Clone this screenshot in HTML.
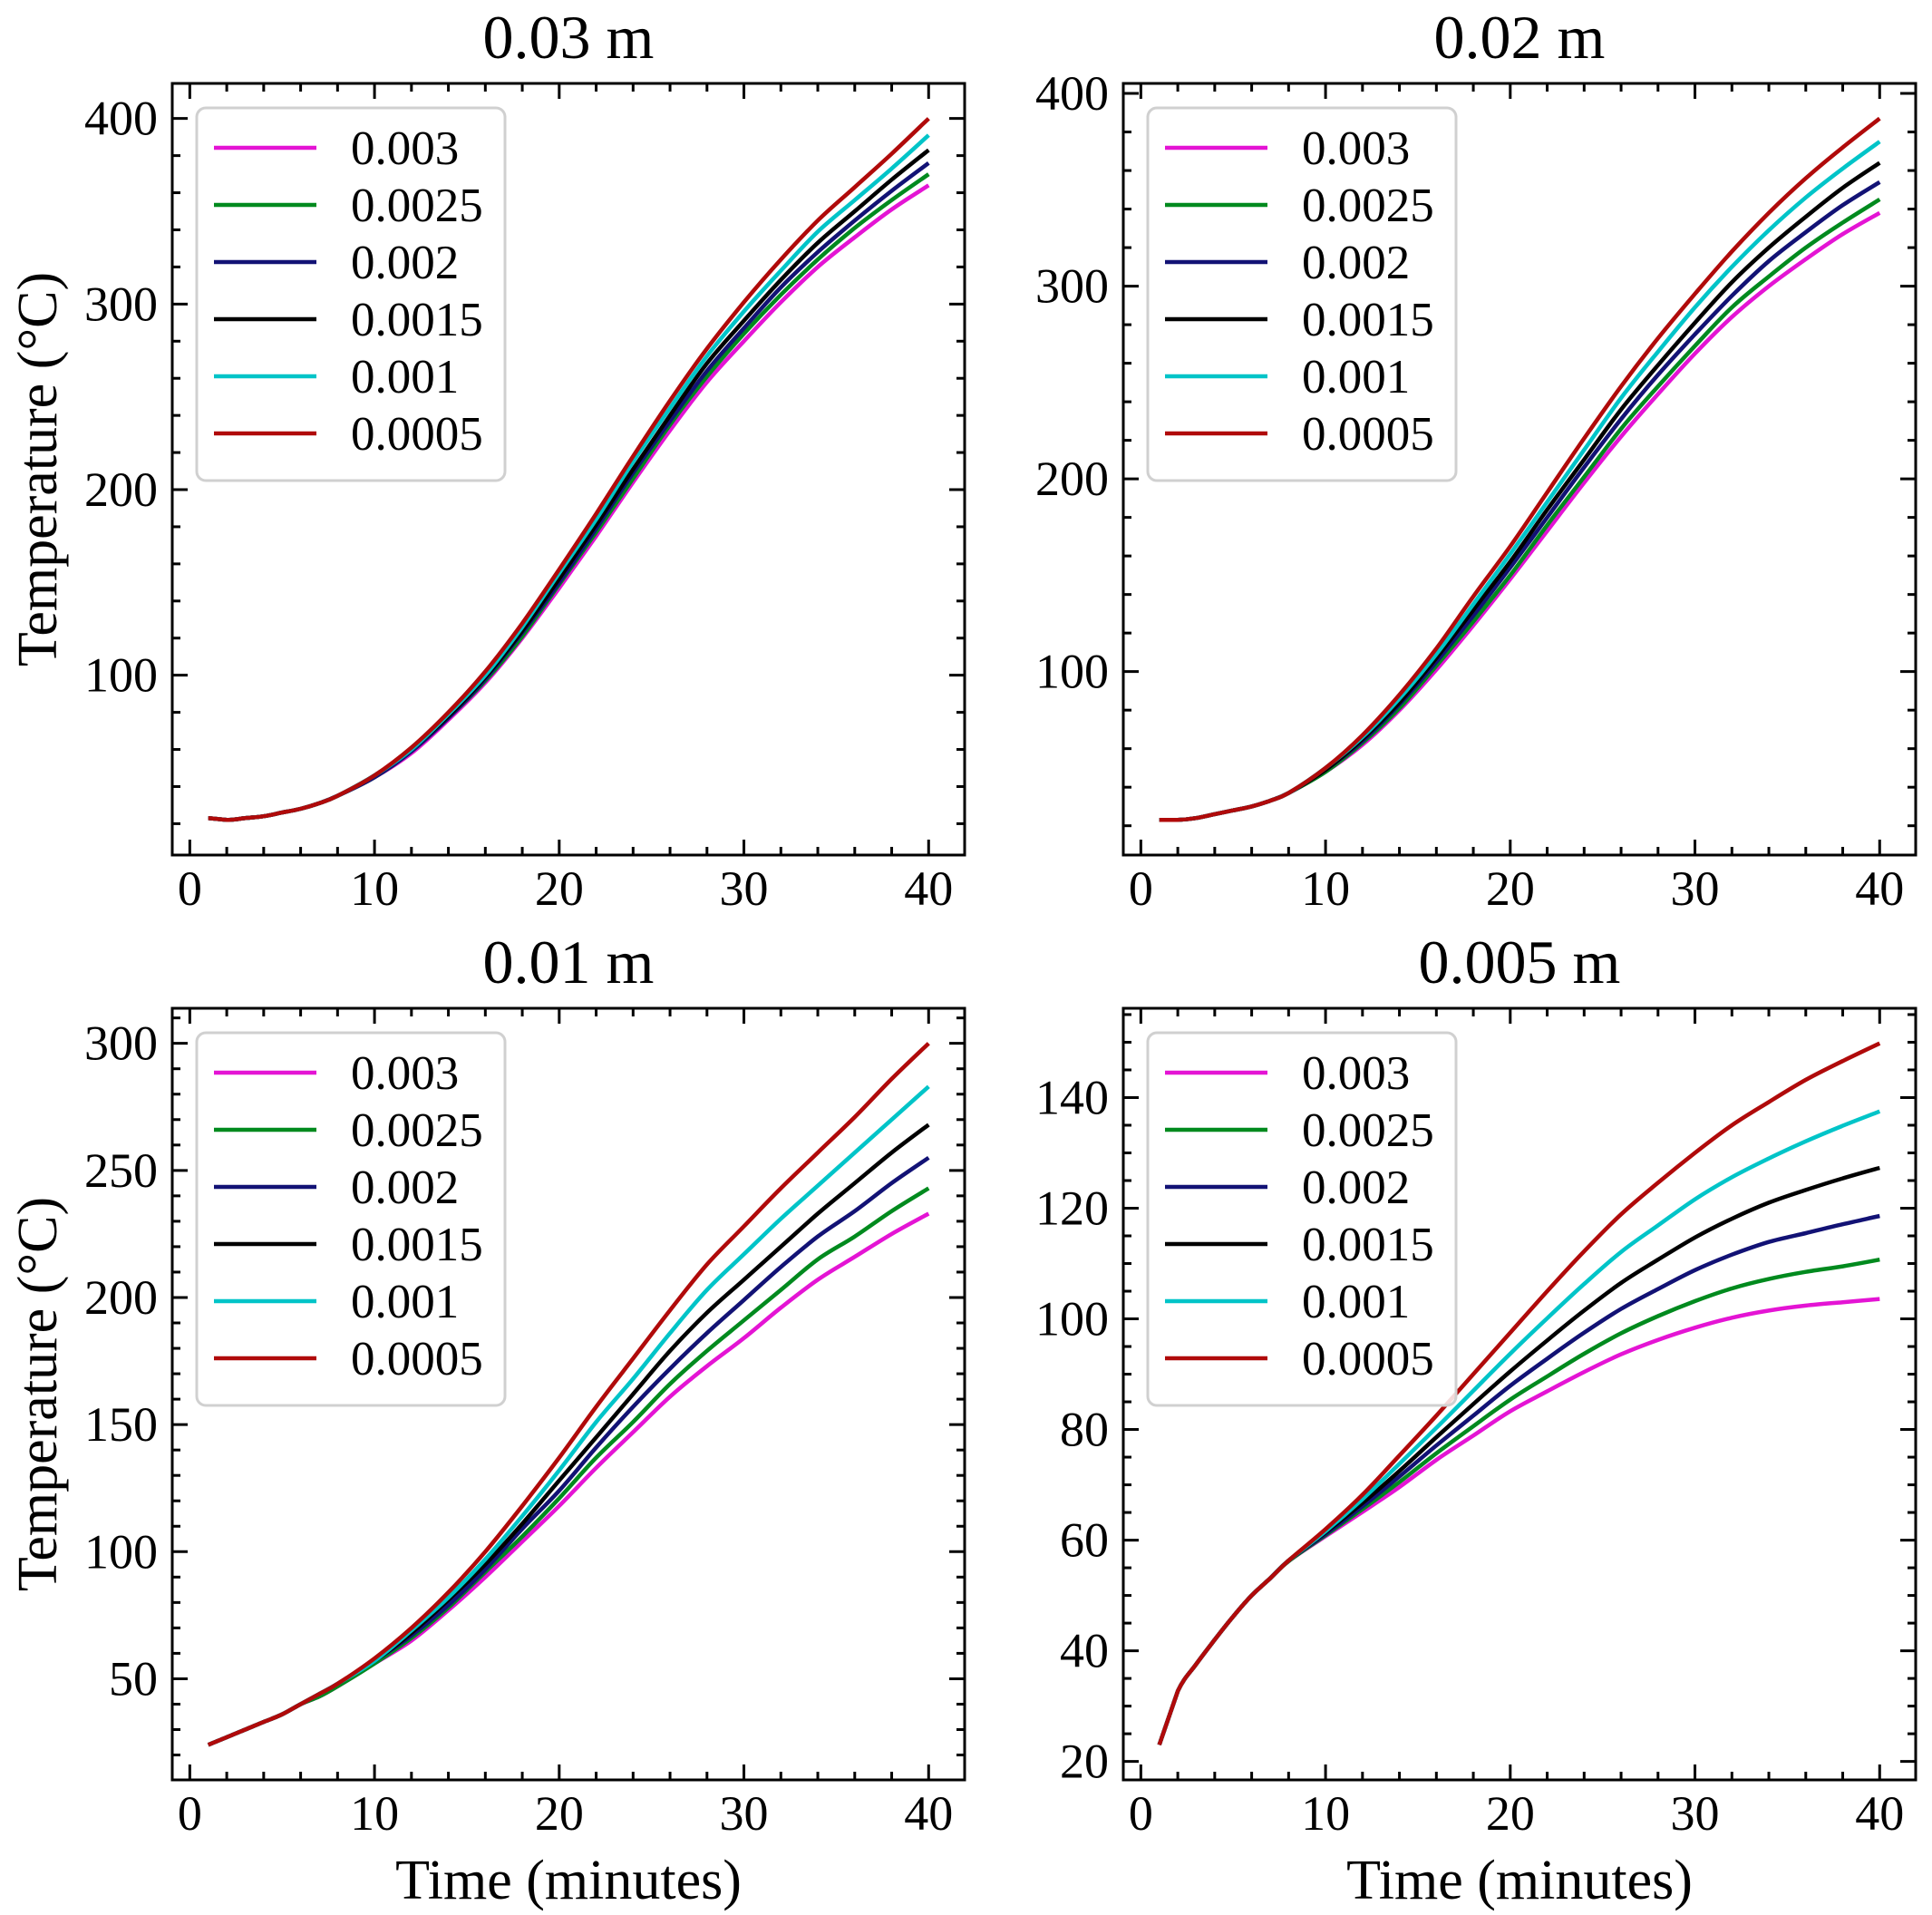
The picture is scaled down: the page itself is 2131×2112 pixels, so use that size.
<!DOCTYPE html>
<html><head><meta charset="utf-8">
<style>
html,body{margin:0;padding:0;background:#fff;}
svg{display:block;font-family:"Liberation Serif","DejaVu Serif",serif;}
</style></head>
<body>
<svg id="fig" xmlns="http://www.w3.org/2000/svg" width="2131" height="2112" viewBox="0 0 2131 2112"></svg>
<script>
const xs = [1,2,3,4,5,6,7,8,10,12,14,16,18,20,22,24,26,28,30,32,34,36,38,40];
const seriesLabels = ["0.003","0.0025","0.002","0.0015","0.001","0.0005"];
const seriesColors = ["#e414d4","#008a1e","#121275","#000000","#00c4c8","#b00a0a"];
const panelTitles = ["0.03 m","0.02 m","0.01 m","0.005 m"];

// panel 0.03 m
const p1_s1 = [23,22,23,24,26,28,31,35,45,58,76,96,120,147,175,204,232,258,280,301,320,336,351,364];
const p1_s2 = [23,22,23,24,26,28,31,35,45,59,77,97,121,149,177,206,235,261,284,305,324,341,356,370];
const p1_s3 = [23,22,23,24,26,28,31,35,45,59,77,98,123,150,179,209,237,264,287,309,328,345,361,376];
const p1_s4 = [23,22,23,24,26,28,31,35,46,60,78,99,124,152,181,211,240,268,291,313,333,350,367,383];
const p1_s5 = [23,22,23,24,26,28,31,35,46,60,79,100,126,155,184,215,244,272,296,318,339,356,373,391];
const p1_s6 = [23,22,23,24,26,28,31,35,46,61,80,102,128,157,187,218,248,276,301,324,345,363,381,400];
// panel 0.02 m
const p2_s1 = [23,23,24,26,28,30,33,37,48,62,80,101,124,148,173,198,222,244,265,284,300,314,327,338];
const p2_s2 = [23,23,24,26,28,30,33,37,48,63,81,103,126,150,176,201,226,248,269,289,305,320,333,345];
const p2_s3 = [23,23,24,26,28,30,33,37,49,64,83,105,129,154,180,206,231,254,275,295,313,328,342,354];
const p2_s4 = [23,23,24,26,28,30,33,37,49,65,84,107,132,157,184,210,236,259,281,302,320,336,351,364];
const p2_s5 = [23,23,24,26,28,30,33,37,50,66,86,109,135,161,188,215,242,266,289,310,329,346,361,375];
const p2_s6 = [23,23,24,26,28,30,33,37,50,67,88,112,139,165,193,221,248,273,296,318,338,356,372,387];
// panel 0.01 m
const p3_s1 = [24,27,30,33,36,40,43,47,56,65,77,90,104,118,133,147,161,173,184,196,207,216,225,233];
const p3_s2 = [24,27,30,33,36,40,43,47,56,66,78,92,106,121,137,151,166,179,191,203,215,224,234,243];
const p3_s3 = [24,27,30,33,36,40,44,48,57,67,79,93,109,124,141,157,172,186,199,212,224,234,245,255];
const p3_s4 = [24,27,30,33,36,40,44,48,57,68,81,95,111,128,145,162,179,194,207,220,233,245,257,268];
const p3_s5 = [24,27,30,33,36,40,44,48,57,69,82,97,114,132,151,168,186,203,217,231,244,257,270,283];
const p3_s6 = [24,27,30,33,36,40,44,48,58,70,84,100,118,137,157,176,195,213,228,243,257,271,286,300];
// panel 0.005 m
const p4_s1 = [23,32.7,37.6,42,46.2,50,53.1,56.2,60.7,65.1,69.6,74.5,78.9,83.3,86.9,90.4,93.6,96.2,98.4,100.2,101.5,102.4,103,103.6];
const p4_s2 = [23,32.7,37.6,42,46.2,50,53.1,56.2,60.9,65.6,70.5,75.7,80.6,85.4,89.6,93.7,97.4,100.5,103.2,105.5,107.2,108.5,109.5,110.7];
const p4_s3 = [23,32.7,37.6,42,46.2,50,53.1,56.3,61.1,66.1,71.5,77.1,82.5,87.9,92.8,97.5,101.8,105.4,108.8,111.6,113.9,115.5,117.1,118.6];
const p4_s4 = [23,32.7,37.6,42,46.2,50,53.1,56.3,61.4,66.7,72.5,78.6,84.6,90.5,96.1,101.5,106.5,110.7,114.7,118.1,121,123.3,125.4,127.3];
const p4_s5 = [23,32.7,37.6,42,46.2,50,53.1,56.3,61.6,67.4,73.8,80.3,87,93.7,100.1,106.3,112.1,116.9,121.6,125.6,129,132.1,134.9,137.5];
const p4_s6 = [23,32.7,37.6,42,46.2,50,53.1,56.3,62,68.2,75.3,82.5,90,97.5,105,112.2,118.9,124.6,130,135,139.2,143.2,146.6,149.8];

const xTicks = [0,10,20,30,40];
const yTicks1 = [100,200,300,400];
const yTicks2 = [100,200,300,400];
const yTicks3 = [50,100,150,200,250,300];
const yTicks4 = [20,40,60,80,100,120,140];

const panelData = [
  [p1_s1,p1_s2,p1_s3,p1_s4,p1_s5,p1_s6],
  [p2_s1,p2_s2,p2_s3,p2_s4,p2_s5,p2_s6],
  [p3_s1,p3_s2,p3_s3,p3_s4,p3_s5,p3_s6],
  [p4_s1,p4_s2,p4_s3,p4_s4,p4_s5,p4_s6]
];
const panelYTicks = [yTicks1,yTicks2,yTicks3,yTicks4];
const panelMinor = [20,20,10,5];

const NS = "http://www.w3.org/2000/svg";
const fig = document.getElementById('fig');
function mk(tag, attrs, parent){
  const e = document.createElementNS(NS, tag);
  for (const k in attrs) e.setAttribute(k, attrs[k]);
  (parent||fig).appendChild(e);
  return e;
}
function smoothPath(pts){
  let d = 'M' + pts[0][0].toFixed(1) + ' ' + pts[0][1].toFixed(1);
  for (let i = 0; i < pts.length-1; i++) {
    const p0 = pts[Math.max(0,i-1)], p1 = pts[i], p2 = pts[i+1], p3 = pts[Math.min(pts.length-1,i+2)];
    if (i === 0) { d += ' L' + p2[0].toFixed(1) + ' ' + p2[1].toFixed(1); continue; }
    const c1x = p1[0] + (p2[0]-p0[0])/6, c1y = p1[1] + (p2[1]-p0[1])/6;
    const c2x = p2[0] - (p3[0]-p1[0])/6, c2y = p2[1] - (p3[1]-p1[1])/6;
    d += ' C' + c1x.toFixed(1)+' '+c1y.toFixed(1)+' '+c2x.toFixed(1)+' '+c2y.toFixed(1)+' '+p2[0].toFixed(1)+' '+p2[1].toFixed(1);
  }
  return d;
}
const boxes = [
  {l:190,r:1064,t:92,b:943},
  {l:1239,r:2113,t:92,b:943},
  {l:190,r:1064,t:1112,b:1963},
  {l:1239,r:2113,t:1112,b:1963}
];

panelData.forEach((series, pi) => {
  const B = boxes[pi];
  const g = mk('g', {});
  
  
  const xmin = Math.min(...xs), xmax = Math.max(...xs);
  const xr = xmax - xmin;
  const x0 = xmin - 0.05*xr, x1 = xmax + 0.05*xr;
  let ymin = Infinity, ymax = -Infinity;
  series.forEach(s => s.forEach(v => { if (v<ymin) ymin=v; if (v>ymax) ymax=v; }));
  const yr = ymax - ymin;
  const y0 = ymin - 0.05*yr, y1 = ymax + 0.05*yr;
  const X = v => B.l + (v - x0)/(x1 - x0)*(B.r - B.l);
  const Y = v => B.b - (v - y0)/(y1 - y0)*(B.b - B.t);

  const cp = mk('clipPath', {id:'clip'+pi}, g);
  mk('rect', {x:B.l, y:B.t, width:B.r-B.l, height:B.b-B.t}, cp);

  series.forEach((s, si) => {
    const pts = s.map((v,i) => [X(xs[i]), Y(v)]);
    const p = mk('path', {d:smoothPath(pts), fill:'none', stroke:seriesColors[si], 'stroke-width':4.5, 'stroke-linejoin':'round', 'clip-path':'url(#clip'+pi+')'}, g);
    
    
  });

  const tg = mk('g', {stroke:'#000', 'stroke-width':3}, g);
  
  
  for (let v = Math.ceil(x0/2)*2; v <= x1; v += 2) {
    const major = v % 10 === 0;
    const L = major ? 17 : 9;
    const px = X(v);
    mk('line', {x1:px, y1:B.b, x2:px, y2:B.b-L}, tg);
    mk('line', {x1:px, y1:B.t, x2:px, y2:B.t+L}, tg);
  }
  const mstep = panelMinor[pi];
  const yt = panelYTicks[pi];
  const majStep = yt[1]-yt[0];
  for (let v = Math.ceil(y0/mstep)*mstep; v <= y1; v += mstep) {
    const major = Math.abs(v % majStep) < 1e-6;
    const L = major ? 17 : 9;
    const py = Y(v);
    mk('line', {x1:B.l, y1:py, x2:B.l+L, y2:py}, tg);
    mk('line', {x1:B.r, y1:py, x2:B.r-L, y2:py}, tg);
  }
  xTicks.forEach(v => {
    const t = mk('text', {x:X(v), y:B.b+55, 'text-anchor':'middle', 'font-size':54, fill:'#000'}, g);
    t.textContent = v;
    
    
  });
  yt.forEach(v => {
    const t = mk('text', {x:B.l-16, y:Y(v)+18, 'text-anchor':'end', 'font-size':54, fill:'#000'}, g);
    t.textContent = v;
    
    
  });
  const fr = mk('rect', {x:B.l, y:B.t, width:B.r-B.l, height:B.b-B.t, fill:'none', stroke:'#000', 'stroke-width':3}, g);
  
  
  const ti = mk('text', {x:(B.l+B.r)/2, y:B.t-28, 'text-anchor':'middle', 'font-size':68, fill:'#000'}, g);
  ti.textContent = panelTitles[pi];
  
  
  const lg = mk('g', {}, g);
  
  
  mk('rect', {x:B.l+27, y:B.t+27, width:340, height:411, rx:10, ry:10, fill:'rgba(255,255,255,0.85)', stroke:'#d0d0d0', 'stroke-width':3}, lg);
  seriesLabels.forEach((lab, si) => {
    const ry = B.t + 71 + si*63;
    const e = mk('g', {}, lg);
    
    
    mk('line', {x1:B.l+46, y1:ry, x2:B.l+159, y2:ry, stroke:seriesColors[si], 'stroke-width':4.5}, e);
    const t = mk('text', {x:B.l+197, y:ry+18, 'font-size':53, fill:'#000'}, e);
    t.textContent = lab;
  });
  if (pi % 2 === 0) {
    const cy = (B.t+B.b)/2;
    const yl = mk('text', {x:0, y:0, transform:'translate(62,'+cy+') rotate(-90)', 'text-anchor':'middle', 'font-size':62, fill:'#000'}, g);
    yl.textContent = 'Temperature (°C)';
    
    
  }
  if (pi >= 2) {
    const xl = mk('text', {x:(B.l+B.r)/2, y:2094, 'text-anchor':'middle', 'font-size':62, fill:'#000'}, g);
    xl.textContent = 'Time (minutes)';
    
    
  }
});
</script>
</body></html>
